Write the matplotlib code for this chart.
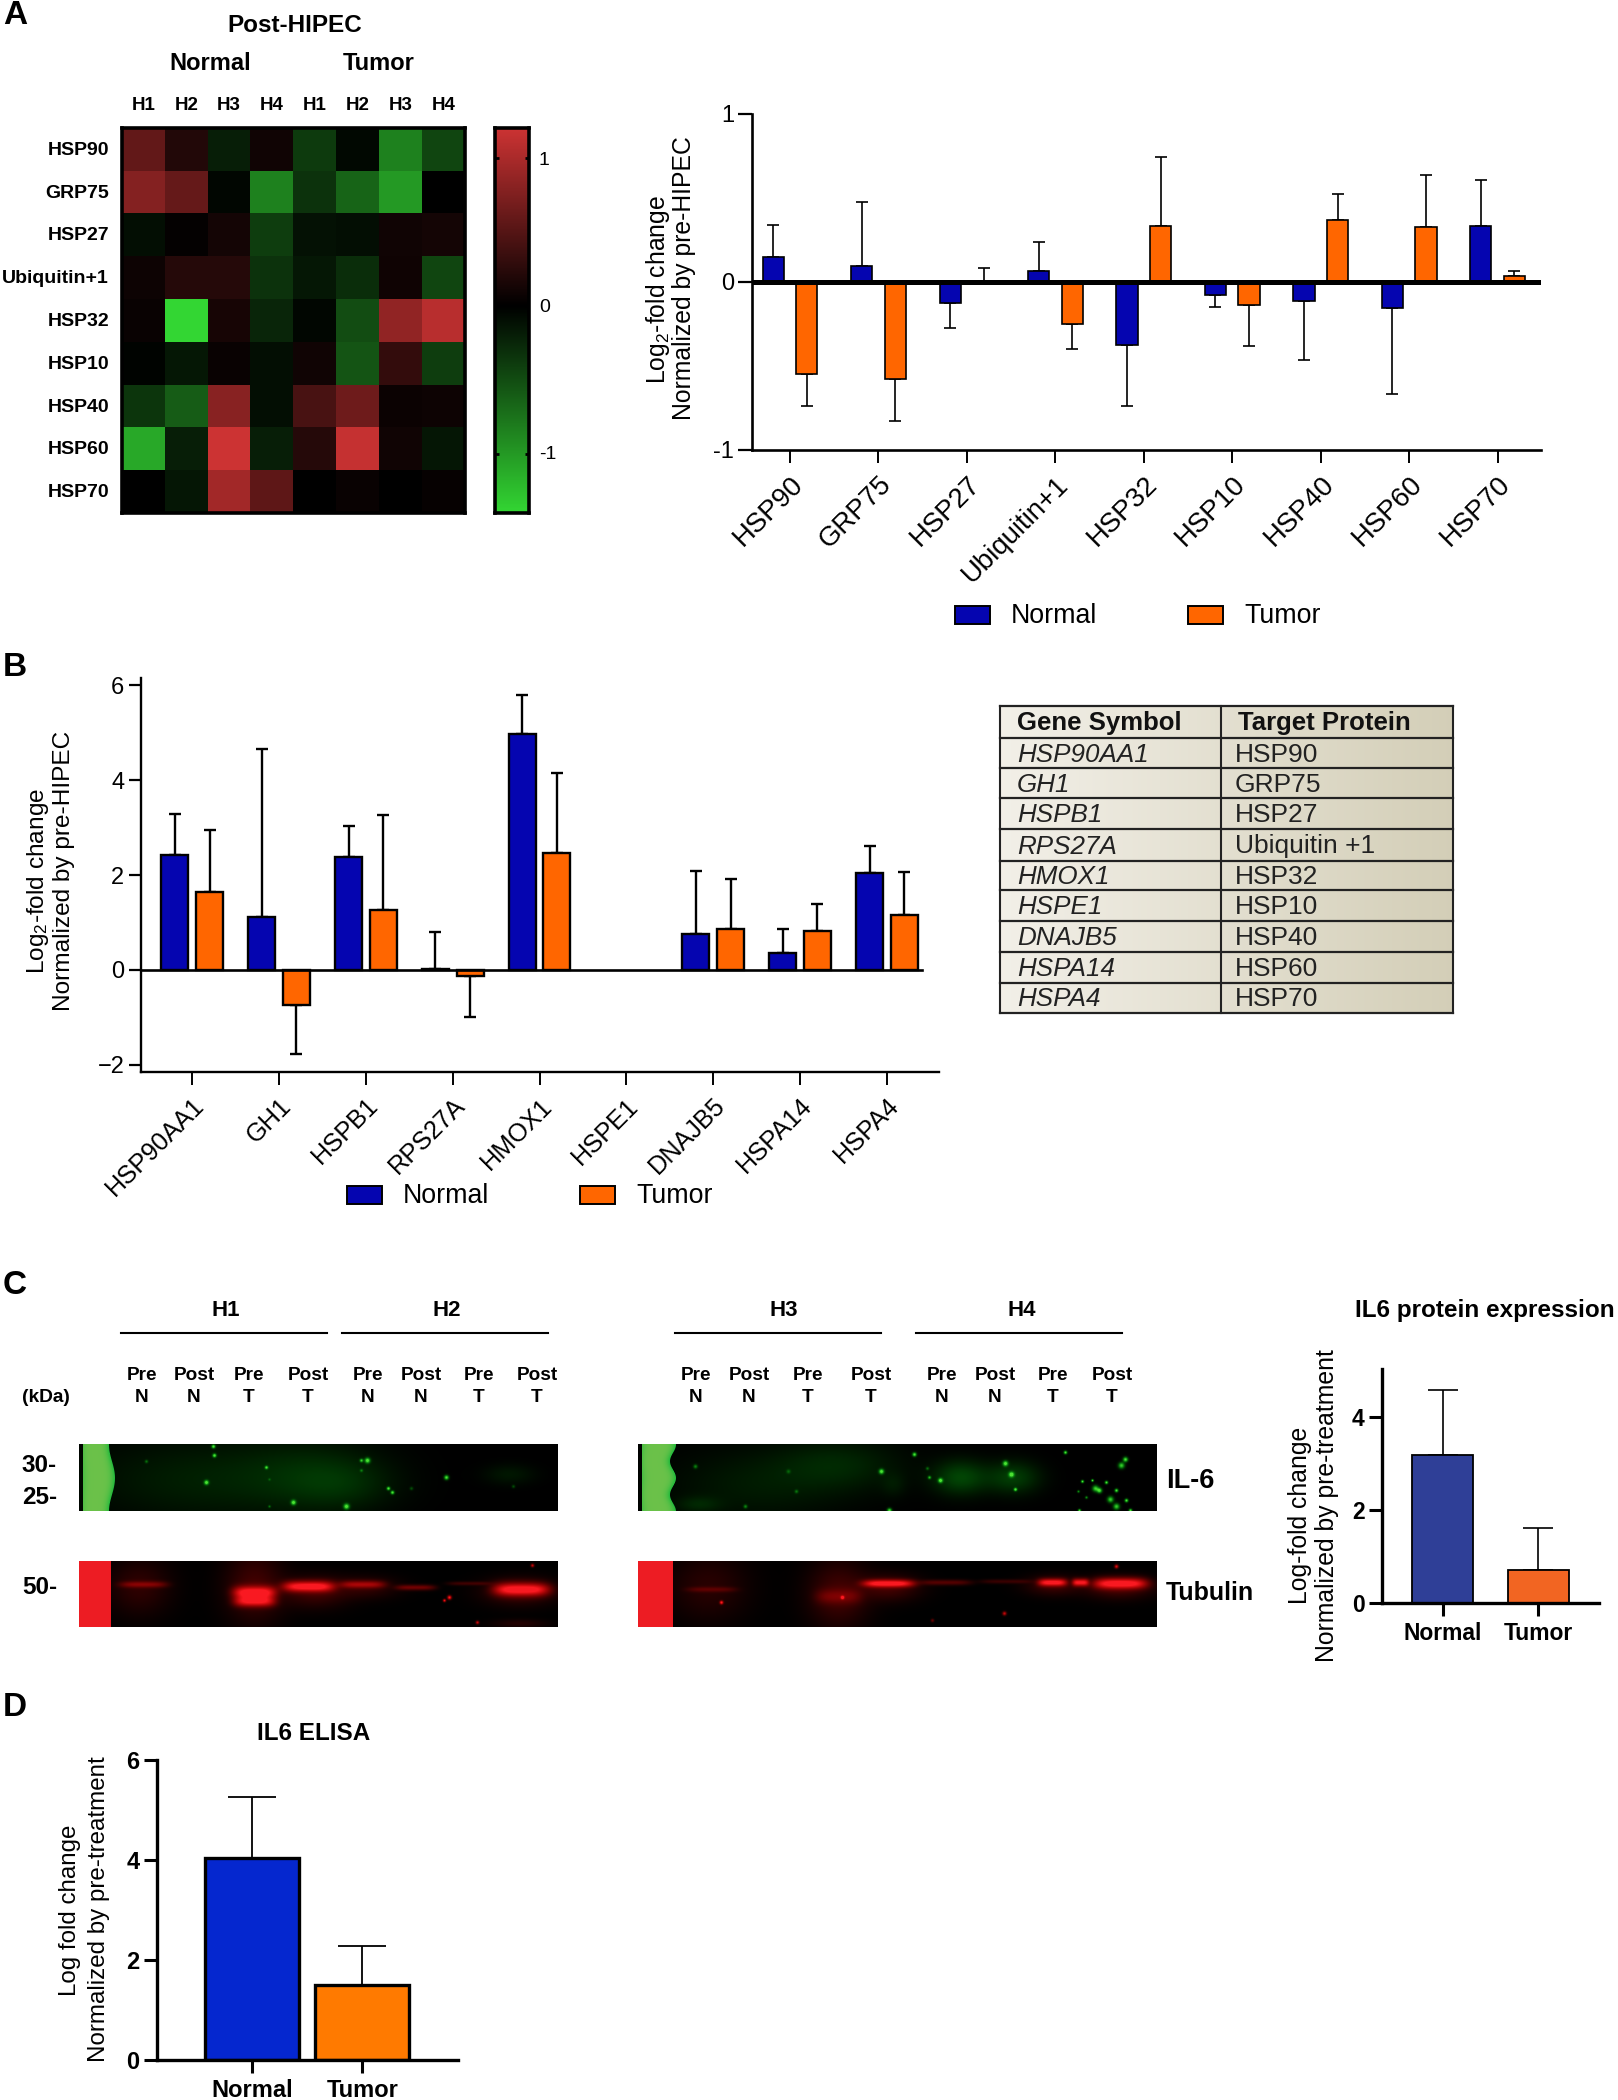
import numpy as np
import matplotlib
matplotlib.use('Agg')
import matplotlib.pyplot as plt
from matplotlib.colors import LinearSegmentedColormap
from matplotlib.patches import Rectangle

plt.rcParams['font.family'] = ['Liberation Sans', 'DejaVu Sans']
plt.rcParams['mathtext.default'] = 'regular'

W, H = 1618, 2100
BLUE = '#0505b0'
ORANGE = '#ff6600'

# panel A heatmap
heat_rows = ['HSP90', 'GRP75', 'HSP27', 'Ubiquitin+1', 'HSP32', 'HSP10', 'HSP40', 'HSP60', 'HSP70']
heat_cols = ['H1', 'H2', 'H3', 'H4', 'H1', 'H2', 'H3', 'H4']
heat_vals = [
    [0.58, 0.20, -0.20, 0.10, -0.38, -0.05, -0.85, -0.45],
    [0.78, 0.60, -0.04, -0.85, -0.33, -0.65, -1.00, 0.00],
    [-0.10, 0.03, 0.12, -0.40, -0.12, -0.10, 0.10, 0.12],
    [0.08, 0.22, 0.22, -0.33, -0.16, -0.30, 0.09, -0.45],
    [0.06, -1.40, 0.14, -0.25, -0.04, -0.50, 0.85, 1.08],
    [-0.02, -0.16, 0.06, -0.10, 0.10, -0.55, 0.30, -0.40],
    [-0.35, -0.60, 0.80, -0.10, 0.42, 0.65, 0.07, 0.08],
    [-1.10, -0.20, 1.20, -0.20, 0.22, 1.15, 0.10, -0.15],
    [0.00, -0.15, 0.95, 0.55, 0.00, 0.06, 0.00, 0.04],
]

# panel A bars
a_labels = ['HSP90', 'GRP75', 'HSP27', 'Ubiquitin+1', 'HSP32', 'HSP10', 'HSP40', 'HSP60', 'HSP70']
a_normal = [0.15, 0.095, -0.123, 0.065, -0.374, -0.08, -0.115, -0.155, 0.333]
a_normal_tip = [0.34, 0.475, -0.276, 0.238, -0.74, -0.147, -0.467, -0.667, 0.607]
a_tumor = [-0.55, -0.58, 0.0, -0.25, 0.333, -0.138, 0.367, 0.33, 0.035]
a_tumor_tip = [-0.74, -0.827, 0.082, -0.40, 0.747, -0.38, 0.523, 0.635, 0.063]

# panel B bars, HSPE1 has no bars
b_labels = ['HSP90AA1', 'GH1', 'HSPB1', 'RPS27A', 'HMOX1', 'HSPE1', 'DNAJB5', 'HSPA14', 'HSPA4']
b_normal = [2.415, 1.11, 2.375, 0.03, 4.98, np.nan, 0.76, 0.364, 2.04]
b_normal_tip = [3.28, 4.66, 3.04, 0.79, 5.79, np.nan, 2.09, 0.87, 2.62]
b_tumor = [1.64, -0.74, 1.27, -0.127, 2.47, np.nan, 0.87, 0.83, 1.156]
b_tumor_tip = [2.945, -1.77, 3.26, -1.0, 4.15, np.nan, 1.92, 1.39, 2.07]

# gene table
table_genes = ['HSP90AA1', 'GH1', 'HSPB1', 'RPS27A', 'HMOX1', 'HSPE1', 'DNAJB5', 'HSPA14', 'HSPA4']
table_prots = ['HSP90', 'GRP75', 'HSP27', 'Ubiquitin +1', 'HSP32', 'HSP10', 'HSP40', 'HSP60', 'HSP70']

# small bars, C and D
groups = ['Normal', 'Tumor']
c_vals = [3.19, 0.72]
c_tips = [4.58, 1.62]
d_vals = [4.05, 1.50]
d_tips = [5.27, 2.29]

# blots: band = (x, y, half width, half height, strength), spot = (x, y, radius, strength)
# px relative to the blot's top left corner
g1_spots = [(134, 2, 2.2, 1), (135, 11, 2.2, 1), (127, 38, 2.7, 1), (187, 23, 1.9, .9), (214, 58, 2.9, 1),
            (267, 62, 3.3, 1), (288, 16, 3.1, 1), (282, 16, 2, .8), (367, 33, 2.7, 1), (309, 44, 2, 1),
            (313, 48, 2.1, 1), (67, 17, 1.9, .4), (190, 35, 1.5, .25), (190, 62, 1.5, .4), (282, 26, 1.8, .4),
            (332, 44, 2, .3), (434, 42, 1.9, .3)]
g1_haze = [(120, 35, 110, 40, .13), (230, 30, 70, 35, .14), (264, 40, 50, 25, .11), (430, 30, 25, 10, .10)]
r1_bands = [(64, 23, 23, 3, .36), (175, 31, 21, 6, 1.0), (175, 40, 20, 5, .85), (229, 25, 25, 5, 1.0),
            (283, 23, 22, 3.5, .50), (336, 26, 19, 2.5, .36), (390, 22, 21, 1.8, .17), (442, 28, 27, 6, 1.0)]
r1_haze = [(60, 25, 28, 25, .12), (175, 25, 26, 32, .18), (235, 30, 30, 14, .18), (440, 30, 32, 12, .18),
           (440, 62, 25, 4, .08), (285, 26, 30, 10, .12)]
r1_spots = [(370, 36, 2.2, 1), (365, 39, 1.6, .9), (398, 61, 1.8, .7), (453, 4, 1.8, .7)]
g2_spots = [(276, 10, 2.4, 1), (243, 27, 2.9, 1), (302, 36, 2.7, 1), (291, 33, 1.9, .7), (367, 19, 3.1, 1),
            (373, 30, 3.1, 1), (377, 45, 1.9, 1), (427, 8, 2, 1), (487, 15, 2.9, 1), (483, 21, 3.6, .9),
            (457, 44, 3.6, .9), (461, 46, 3, 1), (468, 38, 1.9, 1), (478, 46, 2.1, 1), (472, 55, 3.6, .9),
            (478, 62, 3.6, .9), (488, 56, 2.1, 1), (444, 37, 1.7, 1), (454, 36, 1.5, 1), (57, 22, 2.4, .5),
            (150, 27, 2.4, .3), (158, 47, 2.1, .4), (107, 62, 2.2, .5), (251, 66, 2.7, 1), (492, 66, 2, 1),
            (441, 66, 1.7, 1), (289, 24, 1.9, .4), (448, 53, 1.6, .6), (440, 47, 1.5, .6)]
g2_haze = [(120, 40, 85, 35, .11), (200, 20, 60, 25, .15), (322, 33, 27, 17, .30), (375, 33, 26, 16, .26),
           (60, 60, 22, 8, .13), (255, 40, 12, 12, .08)]
r2_bands = [(73, 28, 24, 2.5, .20), (200, 35, 22, 7, .25), (250, 22, 25, 3.5, 1.0), (307, 21, 25, 2.5, .25),
            (368, 20, 25, 2, .15), (414, 21, 14, 3.5, .95), (442, 21, 8, 3.5, .95), (482, 22, 26, 5, 1.0)]
r2_haze = [(70, 25, 35, 30, .10), (200, 32, 27, 30, .18), (250, 26, 28, 12, .18), (480, 26, 30, 10, .20),
           (415, 24, 25, 9, .16)]
r2_spots = [(83, 41, 2, 1), (204, 36, 2, 1), (366, 52, 2.1, .7), (294, 59, 1.8, .3), (478, 5, 2.1, .8)]

# western blot lane labels
c_lane_x1 = [142, 194, 249, 308, 368, 421, 479, 537]
c_lane_x2 = [696, 749, 808, 871, 942, 995, 1053, 1112]
c_lane_top = ['Pre', 'Post', 'Pre', 'Post', 'Pre', 'Post', 'Pre', 'Post']
c_lane_low = ['N', 'N', 'T', 'T', 'N', 'N', 'T', 'T']
c_heads = ['H1', 'H2', 'H3', 'H4']
c_head_x = [226, 447, 784, 1022]
c_head_lines = [(121, 327), (342, 548), (675, 881), (916, 1122)]

fig = plt.figure(figsize=(W / 100, H / 100), dpi=100, facecolor='white')


def ax_px(x0, y0, x1, y1, **kw):
    return fig.add_axes([x0 / W, 1 - y1 / H, (x1 - x0) / W, (y1 - y0) / H], **kw)


ov = ax_px(0, 0, W, H)
ov.set_xlim(0, W)
ov.set_ylim(H, 0)
ov.axis('off')


def txt(x, y, s, size=14, weight='normal', ha='center', va='center', **kw):
    ov.text(x, y, s, fontsize=size, fontweight=weight, ha=ha, va=va, **kw)


for letter, ly in zip('ABCD', [15, 668, 1286, 1707]):
    txt(3, ly, letter, size=24, weight='bold', ha='left')

# heatmap
cmap_pts = [(0.0, '#33d633'), (1.4 / 2.6, '#000000'), (1.0, '#cc3333')]
hm_cmap = LinearSegmentedColormap.from_list('rg', cmap_pts)
hm = ax_px(122, 128, 465, 513)
hm.imshow(np.array(heat_vals), cmap=hm_cmap, vmin=-1.4, vmax=1.2, aspect='auto', interpolation='nearest')
hm.set_xticks([])
hm.set_yticks([])
for s in hm.spines.values():
    s.set_linewidth(2.6)
txt(295, 26, 'Post-HIPEC', size=17.5, weight='bold')
txt(210, 64, 'Normal', size=17, weight='bold')
txt(379, 63, 'Tumor', size=17, weight='bold')
for i, lab in enumerate(heat_cols):
    txt(122 + (i + .5) * 343 / 8, 105, lab, size=13.5, weight='bold')
for i, lab in enumerate(heat_rows):
    txt(109, 128 + (i + .5) * 385 / 9 + 1, lab, size=14, weight='bold', ha='right')

cb = ax_px(495, 128, 529, 513)
grad = np.linspace(1.2, -1.4, 256).reshape(-1, 1)
cb.imshow(grad, cmap=hm_cmap, vmin=-1.4, vmax=1.2, aspect='auto', extent=[0, 1, -1.4, 1.2])
cb.set_xticks([])
cb.set_yticks([-1, 0, 1])
cb.set_yticklabels([])
cb.tick_params(axis='y', left=True, right=True, direction='in', length=3, width=2)
for s in cb.spines.values():
    s.set_linewidth(2.6)
for v, lab in zip([1, 0, -1], ['1', '0', '-1']):
    txt(539, 307.5 - v * 147, lab, size=14, ha='left')


def grouped(ax, labels, normal, n_tip, tumor, t_tip, off, width, lw):
    x = np.arange(len(labels))
    for vals, tips, col, sign in [(normal, n_tip, BLUE, -1), (tumor, t_tip, ORANGE, 1)]:
        vals = np.array(vals)
        tips = np.array(tips)
        pos = x + sign * off
        ax.bar(pos, vals, width, color=col, edgecolor='black', linewidth=lw, zorder=2)
        up = np.where(tips > vals, tips - vals, 0)
        dn = np.where(tips < vals, vals - tips, 0)
        ax.errorbar(pos, vals, yerr=[dn, up], fmt='none', ecolor='black', elinewidth=lw, capsize=4,
                    capthick=lw, zorder=1)
    ax.set_xticks(x)
    ax.set_xticklabels(labels, rotation=45, ha='right', rotation_mode='anchor')
    for s in ['top', 'right']:
        ax.spines[s].set_visible(False)


# A bars
a_ax = ax_px(752, 114, 1541, 450)
a_ax.patch.set_alpha(0)
grouped(a_ax, a_labels, a_normal, a_normal_tip, a_tumor, a_tumor_tip, .19, .24, 1.2)
a_ax.set_xlim(-.43, 8.49)
a_ax.set_ylim(-1, 1)
a_ax.set_yticks([-1, 0, 1])
a_ax.set_yticklabels(['-1', '0', '1'])
a_ax.axhline(0, color='black', lw=3.6, zorder=3)
a_ax.tick_params(axis='y', length=10, width=1.6, labelsize=17, pad=3)
a_ax.tick_params(axis='x', length=9.5, width=1.4, labelsize=19.8, pad=6)
for s in ['left', 'bottom']:
    a_ax.spines[s].set_linewidth(1.9)
txt(658, 290, 'Log$_2$-fold change', size=17.8, rotation=90)
txt(684, 278, 'Normalized by pre-HIPEC', size=17.8, rotation=90)

# B bars
b_ax = ax_px(141, 678, 939, 1072)
b_ax.patch.set_alpha(0)
grouped(b_ax, b_labels, b_normal, b_normal_tip, b_tumor, b_tumor_tip, .2, .31, 1.7)
b_ax.set_xlim(-.59, 8.6)
b_ax.set_ylim(-2.15, 6.15)
b_ax.set_yticks([-2, 0, 2, 4, 6])
b_ax.set_yticklabels(['\u22122', '0', '2', '4', '6'])
b_ax.plot([-.59, 8.4], [0, 0], color='black', lw=1.9, zorder=3)
b_ax.tick_params(axis='y', length=9, width=1.6, labelsize=17, pad=3)
b_ax.tick_params(axis='x', length=9.5, width=1.4, labelsize=18.2, pad=6)
for s in ['left', 'bottom']:
    b_ax.spines[s].set_linewidth(1.7)
txt(38, 881, 'Log$_2$-fold change', size=17.6, rotation=90)
txt(64, 871, 'Normalized by pre-HIPEC', size=17.6, rotation=90)

# legends of A and B
for lx, ly in [(955, 615), (347, 1195)]:
    for dx, col, name in [(0, BLUE, 'Normal'), (233, ORANGE, 'Tumor')]:
        ov.add_patch(Rectangle((lx + dx, ly - 9), 35, 18, fc=col, ec='black', lw=1.4))
        txt(lx + dx + 56, ly + 1, name, size=19.3, ha='left')

# gene table
tb = ax_px(1000, 706, 1453, 1013)
shade = np.linspace(0, 1, 200).reshape(1, -1)
c0 = np.array([.95, .94, .91])
c1 = np.array([.83, .81, .72])
grad_img = (c0 + (c1 - c0) * shade[..., None])
tb.imshow(grad_img, extent=[1000, 1453, 1013, 706], aspect='auto')
tb.set_xlim(1000, 1453)
tb.set_ylim(1013, 706)
tb.axis('off')
row_y = [706, 738, 768, 798, 829, 861, 890, 921, 952, 983, 1013]
for yy in row_y:
    tb.plot([1000, 1453], [yy, yy], color='#222222', lw=1.6, clip_on=False)
for xx in [1000, 1221, 1453]:
    tb.plot([xx, xx], [706, 1013], color='#222222', lw=1.5, clip_on=False)
tb.text(1017, 723, 'Gene Symbol', fontsize=18.5, fontweight='bold', va='center', color='#111111')
tb.text(1238, 723, 'Target Protein', fontsize=18.5, fontweight='bold', va='center', color='#111111')
for i in range(9):
    yc = (row_y[i + 1] + row_y[i + 2]) / 2 + 1.5
    tb.text(1017, yc, table_genes[i], fontsize=18.7, fontstyle='italic', va='center', color='#222222')
    tb.text(1235, yc, table_prots[i], fontsize=19, va='center', color='#222222')


# blots
def blot_values(w, h, bands, haze, spots):
    yy, xx = np.mgrid[0:h, 0:w].astype(float)
    v = np.zeros((h, w))
    for x0, y0, hw, hh, amp in haze:
        v += amp * np.exp(-((xx - x0) / hw) ** 2 - ((yy - y0) / hh) ** 2)
    for x0, y0, hw, hh, amp in bands:
        v += amp * np.exp(-((xx - x0) / hw) ** 4 - ((yy - y0) / hh) ** 2)
    for x0, y0, r, amp in spots:
        v += amp * np.exp(-((xx - x0) ** 2 + (yy - y0) ** 2) / (r * r * .7))
    return np.clip(v, 0, 1), xx, yy


def green_blot(box, ladder_w, lobes, haze, spots):
    x0, y0, x1, y1 = box
    w, h = x1 - x0, y1 - y0
    v, xx, yy = blot_values(w, h, [], haze, spots)
    img = np.stack([.30 * v ** 3, .88 * v, .20 * v ** 2], axis=-1)
    light = np.array([.42, .76, .29])
    deep = np.array([.08, .72, .22])
    edge = ladder_w + 3 * np.cos((yy - h / 2) / h * 2 * np.pi * lobes)
    inside = np.clip(edge - xx, 0, 1) * np.clip(xx - 3, 0, 1)
    mix = np.clip(np.abs(xx - edge * .5) / (edge * .5), 0, 1) ** 4
    col = light + (deep - light) * mix[..., None]
    img = img * (1 - inside[..., None]) + col * inside[..., None]
    a = ax_px(x0, y0, x1, y1)
    a.imshow(np.clip(img, 0, 1), aspect='auto', interpolation='bilinear')
    a.axis('off')


def red_blot(box, ladder_w, bands, haze, spots):
    x0, y0, x1, y1 = box
    w, h = x1 - x0, y1 - y0
    v, xx, yy = blot_values(w, h, bands, haze, spots)
    img = np.stack([.98 * v ** .8, .10 * v ** 3, .13 * v ** 3], axis=-1)
    inside = (xx < ladder_w).astype(float)
    col = np.array([.93, .11, .14])
    img = img * (1 - inside[..., None]) + col * inside[..., None]
    a = ax_px(x0, y0, x1, y1)
    a.imshow(np.clip(img, 0, 1), aspect='auto', interpolation='bilinear')
    a.axis('off')


green_blot((79, 1444, 558, 1511), 33, 1, g1_haze, g1_spots)
red_blot((79, 1561, 558, 1627), 32, r1_bands, r1_haze, r1_spots)
green_blot((638, 1444, 1157, 1511), 35, 2, g2_haze, g2_spots)
red_blot((638, 1561, 1157, 1627), 35, r2_bands, r2_haze, r2_spots)

for name, hx, (l0, l1) in zip(c_heads, c_head_x, c_head_lines):
    txt(hx, 1310, name, size=16, weight='bold')
    ov.plot([l0, l1], [1333, 1333], color='black', lw=1.5)
for xs in [c_lane_x1, c_lane_x2]:
    for lx, top, low in zip(xs, c_lane_top, c_lane_low):
        txt(lx, 1375, top, size=13.7, weight='bold')
        txt(lx, 1398, low, size=13.7, weight='bold')
txt(46, 1397, '(kDa)', size=13.8, weight='bold')
txt(39, 1465, '30-', size=17.5, weight='bold')
txt(40, 1498, '25-', size=17.5, weight='bold')
txt(40, 1588, '50-', size=17.5, weight='bold')
txt(1166, 1481, 'IL-6', size=19.5, weight='bold', ha='left')
txt(1166, 1593, 'Tubulin', size=18, weight='bold', ha='left')


def small_bars(box, vals, tips, ylim, yticks, xl, width, cols, lw, cap, labsize, err_lw):
    a = ax_px(*box)
    a.patch.set_alpha(0)
    x = np.arange(len(vals))
    err = np.array(tips) - np.array(vals)
    a.bar(x, vals, width, color=cols, edgecolor='black', linewidth=lw, zorder=2)
    a.errorbar(x, vals, yerr=[np.zeros(len(err)), err], fmt='none', ecolor='black', elinewidth=err_lw,
               capsize=cap, capthick=err_lw, zorder=1)
    a.set_xlim(*xl)
    a.set_ylim(*ylim)
    a.set_yticks(yticks)
    a.set_xticks(x)
    a.set_xticklabels(groups, fontweight='bold')
    for t in a.get_yticklabels():
        t.set_fontweight('bold')
    a.tick_params(axis='y', length=9.5, width=2.2, labelsize=labsize, pad=3)
    a.tick_params(axis='x', length=9.5, width=2.2, labelsize=labsize, pad=4.5)
    for s in ['top', 'right']:
        a.spines[s].set_visible(False)
    for s in ['left', 'bottom']:
        a.spines[s].set_linewidth(2.4)
    return a


# C bars
small_bars((1382, 1369, 1599, 1603), c_vals, c_tips, (0, 5.03), [0, 2, 4], (-.64, 1.64), .64,
           ['#2f3f97', '#f26522'], 1.3, 11, 16.5, 1.2)
txt(1485, 1311, 'IL6 protein expression', size=17.5, weight='bold')
txt(1300, 1515, 'Log-fold change', size=17.8, rotation=90)
txt(1327, 1506, 'Normalized by pre-treatment', size=17.8, rotation=90)

# D bars
small_bars((157, 1760, 458, 2060), d_vals, d_tips, (0, 6), [0, 2, 4, 6], (-.864, 1.87), .85,
           ['#0527cf', '#ff7a00'], 2.4, 17.5, 17, 1.3)
txt(314, 1734, 'IL6 ELISA', size=17.5, weight='bold')
txt(70, 1910, 'Log fold change', size=17.4, rotation=90)
txt(99, 1909, 'Normalized by pre-treatment', size=17.4, rotation=90)

fig.savefig('out.png', dpi=100)
